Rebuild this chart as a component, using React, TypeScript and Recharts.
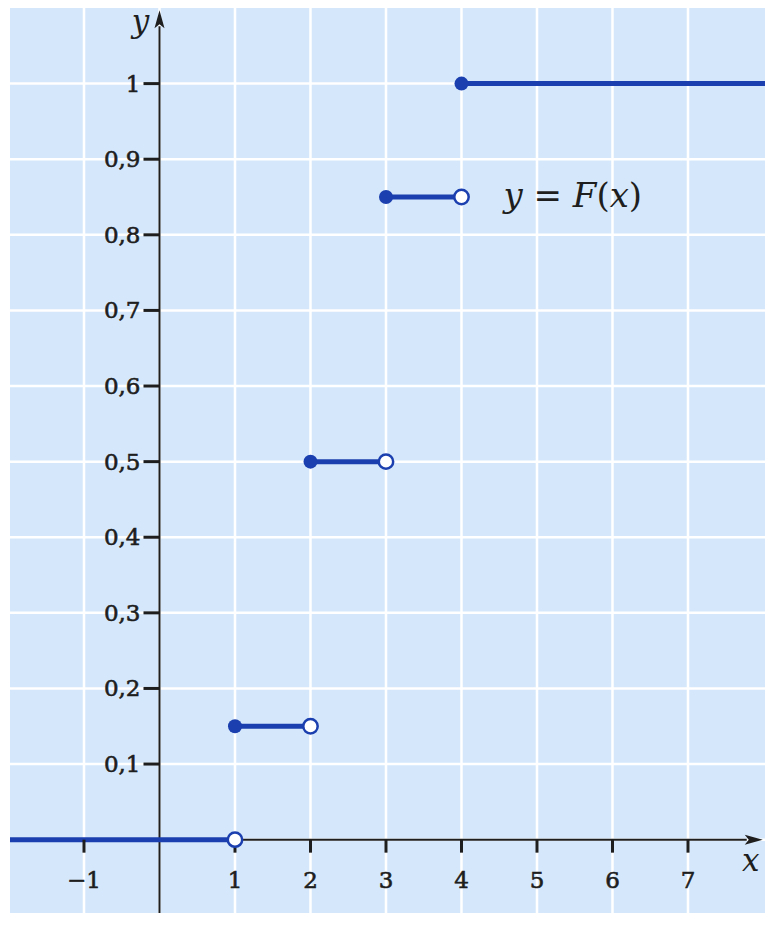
import {
  ComposedChart,
  Line,
  Scatter,
  XAxis,
  YAxis,
  ReferenceArea,
  ReferenceLine,
  ReferenceDot,
} from 'recharts';

const xDomain = [-1.98, 8.02];
const yDomain = [-0.097, 1.1];
const xGridTicks = [-1, 0, 1, 2, 3, 4, 5, 6, 7];
const yGridTicks = [0, 0.1, 0.2, 0.3, 0.4, 0.5, 0.6, 0.7, 0.8, 0.9, 1];

const xTickValues = [-1, 1, 2, 3, 4, 5, 6, 7];
const xTickLabels = ['\u22121', '1', '2', '3', '4', '5', '6', '7'];
const yTickValues = [0.1, 0.2, 0.3, 0.4, 0.5, 0.6, 0.7, 0.8, 0.9, 1];
const yTickLabels = ['0,1', '0,2', '0,3', '0,4', '0,5', '0,6', '0,7', '0,8', '0,9', '1'];

// step function F(x)
const stepStarts = [-1.98, 1, 2, 3, 4];
const stepEnds = [1, 2, 3, 4, 8.02];
const stepLevels = [0, 0.15, 0.5, 0.85, 1];

const filledDots = [
  { x: 1, y: 0.15 },
  { x: 2, y: 0.5 },
  { x: 3, y: 0.85 },
  { x: 4, y: 1 },
];
const openDots = [
  { x: 1, y: 0 },
  { x: 2, y: 0.15 },
  { x: 3, y: 0.5 },
  { x: 4, y: 0.85 },
];

const BLUE = '#1b3fae';
const INK = '#1e1e1e';
const FONT = '"DejaVu Serif", "Liberation Serif", serif';

const segments = stepLevels.map((level, i) => [
  { x: stepStarts[i], y: level },
  { x: stepEnds[i], y: level },
]);

const ArrowLine = (props: any) => {
  const { x1, y1, x2, y2 } = props;
  const dx = x2 - x1;
  const dy = y2 - y1;
  const len = Math.sqrt(dx * dx + dy * dy) || 1;
  const ux = dx / len;
  const uy = dy / len;
  const head = 18;
  const half = 5;
  const bx = x2 - ux * head;
  const by = y2 - uy * head;
  return (
    <g>
      <line x1={x1} y1={y1} x2={bx + ux * 2} y2={by + uy * 2} stroke={INK} strokeWidth={2} />
      <polygon
        points={`${x2},${y2} ${bx - uy * half},${by + ux * half} ${bx + ux * 4},${by + uy * 4} ${bx + uy * half},${by - ux * half}`}
        fill={INK}
      />
    </g>
  );
};

const labelStyle = {
  fontFamily: FONT,
  fontSize: 23,
  fill: INK,
  stroke: INK,
  strokeWidth: 0.6,
};

const App = () => {
  return (
    <div style={{ position: 'absolute', left: 0, top: 0, background: '#fff' }}>
      <ComposedChart
        width={777}
        height={925}
        margin={{ top: 8, right: 12, bottom: 12, left: 10 }}
      >
        <XAxis
          type="number"
          dataKey="x"
          domain={xDomain}
          allowDataOverflow
          height={0}
          tick={false}
          axisLine={false}
          tickLine={false}
        />
        <YAxis
          type="number"
          dataKey="y"
          domain={yDomain}
          allowDataOverflow
          width={0}
          tick={false}
          axisLine={false}
          tickLine={false}
        />

        {/* panel + grid */}
        <ReferenceArea
          x1={xDomain[0]}
          x2={xDomain[1]}
          y1={yDomain[0]}
          y2={yDomain[1]}
          fill="#d5e8fb"
          fillOpacity={1}
          stroke="none"
        />
        {xGridTicks.map((v) => (
          <ReferenceLine key={`gx-${v}`} x={v} stroke="#ffffff" strokeWidth={2.5} />
        ))}
        {yGridTicks.map((v) => (
          <ReferenceLine key={`gy-${v}`} y={v} stroke="#ffffff" strokeWidth={2.5} />
        ))}

        {/* axes */}
        <ReferenceLine
          segment={[{ x: 0, y: yDomain[0] }, { x: 0, y: 1.097 }]}
          shape={ArrowLine}
          ifOverflow="visible"
        />
        <ReferenceLine
          segment={[{ x: xDomain[0], y: 0 }, { x: 7.99, y: 0 }]}
          shape={ArrowLine}
          ifOverflow="visible"
        />

        {xTickValues.map((v, i) => (
          <ReferenceDot
            key={`xt-${v}`}
            x={v}
            y={0}
            ifOverflow="visible"
            shape={(p: any) => (
              <g>
                <line x1={p.cx} y1={p.cy} x2={p.cx} y2={p.cy + 13} stroke={INK} strokeWidth={3} />
                <text x={p.cx} y={p.cy + 48} textAnchor="middle" {...labelStyle}>
                  {xTickLabels[i]}
                </text>
              </g>
            )}
          />
        ))}
        {yTickValues.map((v, i) => (
          <ReferenceDot
            key={`yt-${v}`}
            x={0}
            y={v}
            ifOverflow="visible"
            shape={(p: any) => (
              <g>
                <line x1={p.cx - 16} y1={p.cy} x2={p.cx} y2={p.cy} stroke={INK} strokeWidth={3} />
                <text x={p.cx - 19} y={p.cy + 8} textAnchor="end" {...labelStyle}>
                  {yTickLabels[i]}
                </text>
              </g>
            )}
          />
        ))}

        {/* axis names */}
        <ReferenceDot
          x={0}
          y={1.097}
          ifOverflow="visible"
          shape={(p: any) => (
            <text x={p.cx - 19} y={p.cy + 22} textAnchor="middle" fontFamily={FONT} fontStyle="italic" fontSize={31} fill={INK}>
              y
            </text>
          )}
        />
        <ReferenceDot
          x={7.99}
          y={0}
          ifOverflow="visible"
          shape={(p: any) => (
            <text x={p.cx - 12} y={p.cy + 31} textAnchor="middle" fontFamily={FONT} fontStyle="italic" fontSize={31} fill={INK}>
              x
            </text>
          )}
        />

        {/* F(x) steps */}
        {segments.map((seg, i) => (
          <Line
            key={`seg-${i}`}
            data={seg}
            dataKey="y"
            stroke={BLUE}
            strokeWidth={5}
            dot={false}
            activeDot={false}
            isAnimationActive={false}
          />
        ))}
        <Scatter
          data={filledDots}
          dataKey="y"
          isAnimationActive={false}
          shape={(p: any) => <circle cx={p.cx} cy={p.cy} r={7} fill={BLUE} />}
        />
        <Scatter
          data={openDots}
          dataKey="y"
          isAnimationActive={false}
          shape={(p: any) => (
            <circle cx={p.cx} cy={p.cy} r={7.2} fill="#ffffff" stroke={BLUE} strokeWidth={2.5} />
          )}
        />

        <ReferenceDot
          x={4}
          y={0.85}
          ifOverflow="visible"
          shape={(p: any) => (
            <text x={p.cx + 42} y={p.cy + 10} fontFamily={FONT} fontSize={34} fill={INK}>
              <tspan fontStyle="italic">y</tspan>
              <tspan> = </tspan>
              <tspan fontStyle="italic">F</tspan>
              <tspan>(</tspan>
              <tspan fontStyle="italic">x</tspan>
              <tspan>)</tspan>
            </text>
          )}
        />
      </ComposedChart>
    </div>
  );
};

export default App;
